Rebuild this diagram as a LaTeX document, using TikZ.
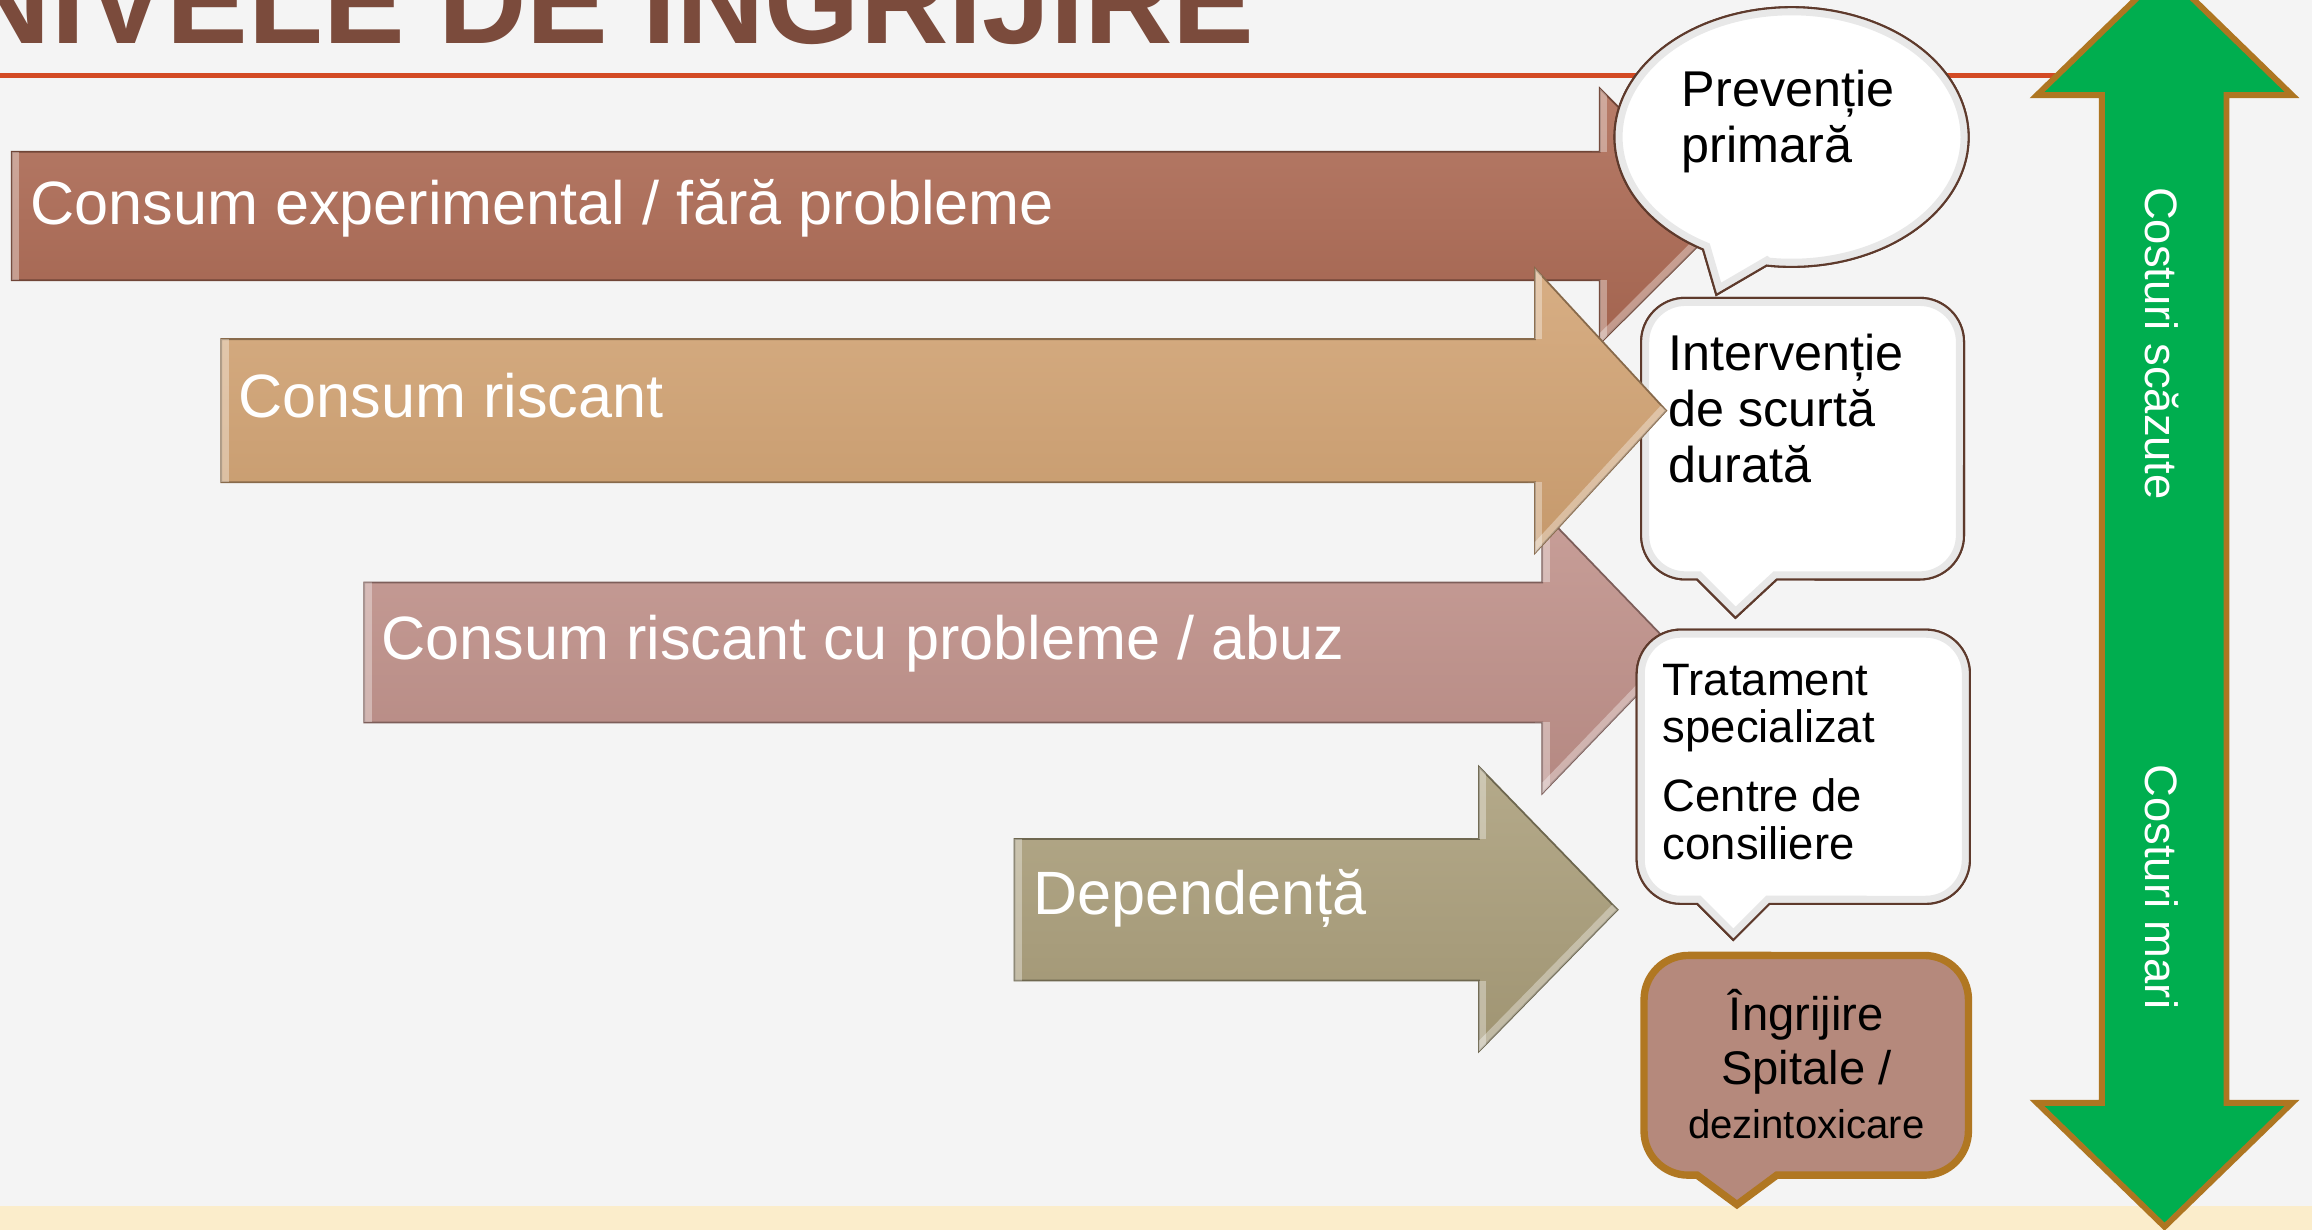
\documentclass[tikz,border=0pt]{standalone}
\usepackage{fontspec}
\setmainfont{Liberation Sans}

\definecolor{slidebg}{HTML}{F4F4F4}
\definecolor{footcream}{HTML}{FBEDCB}
\definecolor{titlebrown}{HTML}{7B4B3C}
\definecolor{ruleorange}{HTML}{D34A24}
\definecolor{levelA}{HTML}{AD6A54}
\definecolor{levelB}{HTML}{D2A373}
\definecolor{levelC}{HTML}{C0918A}
\definecolor{levelD}{HTML}{AA9E7A}
\definecolor{carefill}{HTML}{B5897C}
\definecolor{careedge}{HTML}{B07722}
\definecolor{costgreen}{HTML}{00AE4F}
\definecolor{costedge}{HTML}{AE7621}
\definecolor{calloutedge}{HTML}{5E3A2C}

\tikzset{
  levelarrow/.style={draw=#1!65!black, line width=0.012cm,
    top color=#1!88!white, bottom color=#1!94!black},
  bevellight/.style={draw=white, line width=0.1cm, opacity=0.35},
  leveltext/.style={anchor=base west, inner sep=0pt, text=white,
    font=\fontsize{11.8}{14}\selectfont},
  callout/.style={fill=white, draw=calloutedge, line width=0.014cm},
  calloutbevel/.style={draw=black!9, line width=0.11cm},
  callouttext/.style={anchor=base west, inner sep=0pt, align=left,
    font=\fontsize{9.7}{10.8}\selectfont},
  costtext/.style={rotate=-90, inner sep=0pt, text=white,
    font=\fontsize{8.75}{10}\selectfont},
}

\begin{document}
\begin{tikzpicture}[x=0.01cm, y=-0.01cm]
    \useasboundingbox (0,0) rectangle (1568,834);
    \clip (0,0) rectangle (1568,834);

    % Slide background and footer band
    \fill[slidebg] (0,0) rectangle (1568,834);%
    \fill[footcream] (0,818) rectangle (1568,834);%

    % Title and rule under it
    \node[anchor=base west, inner sep=0pt, text=titlebrown,
      font=\bfseries\fontsize{23.6}{28}\selectfont] (title) at (-26,29.8) {NIVELE DE ÎNGRIJIRE};%
    \draw[ruleorange, line width=0.036cm] (0,51) -- (1420,51);%

    % Drawing arrow: consum experimental
    \draw[levelarrow=levelA, save path=\arrowA] (8,103) -- (1085,103) -- (1085,60) -- (1172,146.5)
      -- (1085,233) -- (1085,190) -- (8,190) -- cycle;%
    \begin{scope}
      \clip[use path=\arrowA];
      \draw[bevellight] (1085,233) -- (1172,146.5);%
      \draw[bevellight] (1085,60) -- (1085,103) (1085,190) -- (1085,233) (8,103) -- (8,190);%
    \end{scope}
    \node[leveltext] (experimental) at (20,152) {Consum experimental / fără probleme};%

    % Callout: preventie primara
    \draw[callout, save path=\calloutA] (1198.1,180.1) -- (1164,200) -- (1155,169.2)
      arc[start angle=240, end angle=-98.1, x radius=1.2cm, y radius=0.88cm] -- cycle;%
    \begin{scope}
      \clip[use path=\calloutA];
      \draw[calloutbevel, use path=\calloutA];%
    \end{scope}
    \draw[callout, fill=none, use path=\calloutA];%
    \node[callouttext] (preventie) at (1140,110) {Prevenție\\primară};%

    % Callout: interventie de scurta durata
    \draw[callout, save path=\calloutB] (1151,393) -- (1143,393)
      arc[start angle=270, end angle=180, radius=0.3cm] -- (1113,232)
      arc[start angle=180, end angle=90, radius=0.3cm] -- (1302,202)
      arc[start angle=90, end angle=0, radius=0.3cm] -- (1332,363)
      arc[start angle=0, end angle=-90, radius=0.3cm] -- (1205,393) -- (1177,419) -- cycle;%
    \begin{scope}
      \clip[use path=\calloutB];
      \draw[calloutbevel, use path=\calloutB];%
    \end{scope}
    \draw[callout, fill=none, use path=\calloutB];%
    \node[callouttext] (interventie) at (1131,327) {Intervenție\\de scurtă\\durată};%

    % Drawing arrow: consum riscant cu probleme
    \draw[levelarrow=levelC, save path=\arrowC] (247,395) -- (1046,395) -- (1046,347) -- (1138,442.5)
      -- (1046,538) -- (1046,490) -- (247,490) -- cycle;%
    \begin{scope}
      \clip[use path=\arrowC];
      \draw[bevellight] (1046,538) -- (1138,442.5);%
      \draw[bevellight] (1046,347) -- (1046,395) (1046,490) -- (1046,538) (247,395) -- (247,490);%
    \end{scope}
    \node[leveltext] (abuz) at (258,447) {Consum riscant cu probleme / abuz};%

    % Drawing arrow: consum riscant
    \draw[levelarrow=levelB, save path=\arrowB] (150,230) -- (1041,230) -- (1041,182) -- (1130,278.5)
      -- (1041,375) -- (1041,327) -- (150,327) -- cycle;%
    \begin{scope}
      \clip[use path=\arrowB];
      \draw[bevellight] (1041,375) -- (1130,278.5);%
      \draw[bevellight] (1041,182) -- (1041,230) (1041,327) -- (1041,375) (150,230) -- (150,327);%
    \end{scope}
    \node[leveltext] (riscant) at (161,283) {Consum riscant};%

    % Callout: tratament specializat
    \draw[callout, save path=\calloutC] (1151,613) -- (1140,613)
      arc[start angle=270, end angle=180, radius=0.3cm] -- (1110,457)
      arc[start angle=180, end angle=90, radius=0.3cm] -- (1306,427)
      arc[start angle=90, end angle=0, radius=0.3cm] -- (1336,583)
      arc[start angle=0, end angle=-90, radius=0.3cm] -- (1200,613) -- (1175.5,637.5) -- cycle;%
    \begin{scope}
      \clip[use path=\calloutC];
      \draw[calloutbevel, use path=\calloutC];%
    \end{scope}
    \draw[callout, fill=none, use path=\calloutC];%
    \node[callouttext, font=\fontsize{8.76}{9.2}\selectfont] (tratament) at (1127,583)
      {Tratament\\specializat\\[4.1pt]Centre de\\consiliere};%

    % Drawing arrow: dependenta
    \draw[levelarrow=levelD, save path=\arrowD] (688,569) -- (1003,569) -- (1003,520) -- (1097,617)
      -- (1003,713) -- (1003,665) -- (688,665) -- cycle;%
    \begin{scope}
      \clip[use path=\arrowD];
      \draw[bevellight] (1003,713) -- (1097,617);%
      \draw[bevellight] (1003,520) -- (1003,569) (1003,665) -- (1003,713) (688,569) -- (688,665);%
    \end{scope}
    \node[leveltext] (dependenta) at (700,620) {Dependență};%

    % Callout: ingrijire spitale
    \draw[fill=carefill, draw=careedge, line width=0.05cm] (1151,797) -- (1145,797)
      arc[start angle=270, end angle=180, radius=0.3cm] -- (1115,678)
      arc[start angle=180, end angle=90, radius=0.3cm] -- (1305,648)
      arc[start angle=90, end angle=0, radius=0.3cm] -- (1335,767)
      arc[start angle=0, end angle=-90, radius=0.3cm] -- (1205,797) -- (1178,817) -- cycle;%
    \node[anchor=base, inner sep=0pt, align=center, font=\fontsize{9.1}{10.4}\selectfont]
      (spitale) at (1225,772) {Îngrijire\\Spitale /\\{\fontsize{7.74}{10}\selectfont dezintoxicare}};%

    % Double arrow of costs
    \draw[fill=costgreen, draw=costedge, line width=0.04cm, miter limit=4]
      (1425.5,64.5) -- (1381.5,64.5) -- (1468,-19.5) -- (1554.5,64.5) -- (1510,64.5)
      -- (1510,748) -- (1554.5,748) -- (1468,832) -- (1381.5,748) -- (1425.5,748) -- cycle;%
    \node[costtext] (scazute) at (1466,233) {Costuri scăzute};%
    \node[costtext] (mari) at (1466,601.5) {Costuri mari};%
\end{tikzpicture}
\end{document}
